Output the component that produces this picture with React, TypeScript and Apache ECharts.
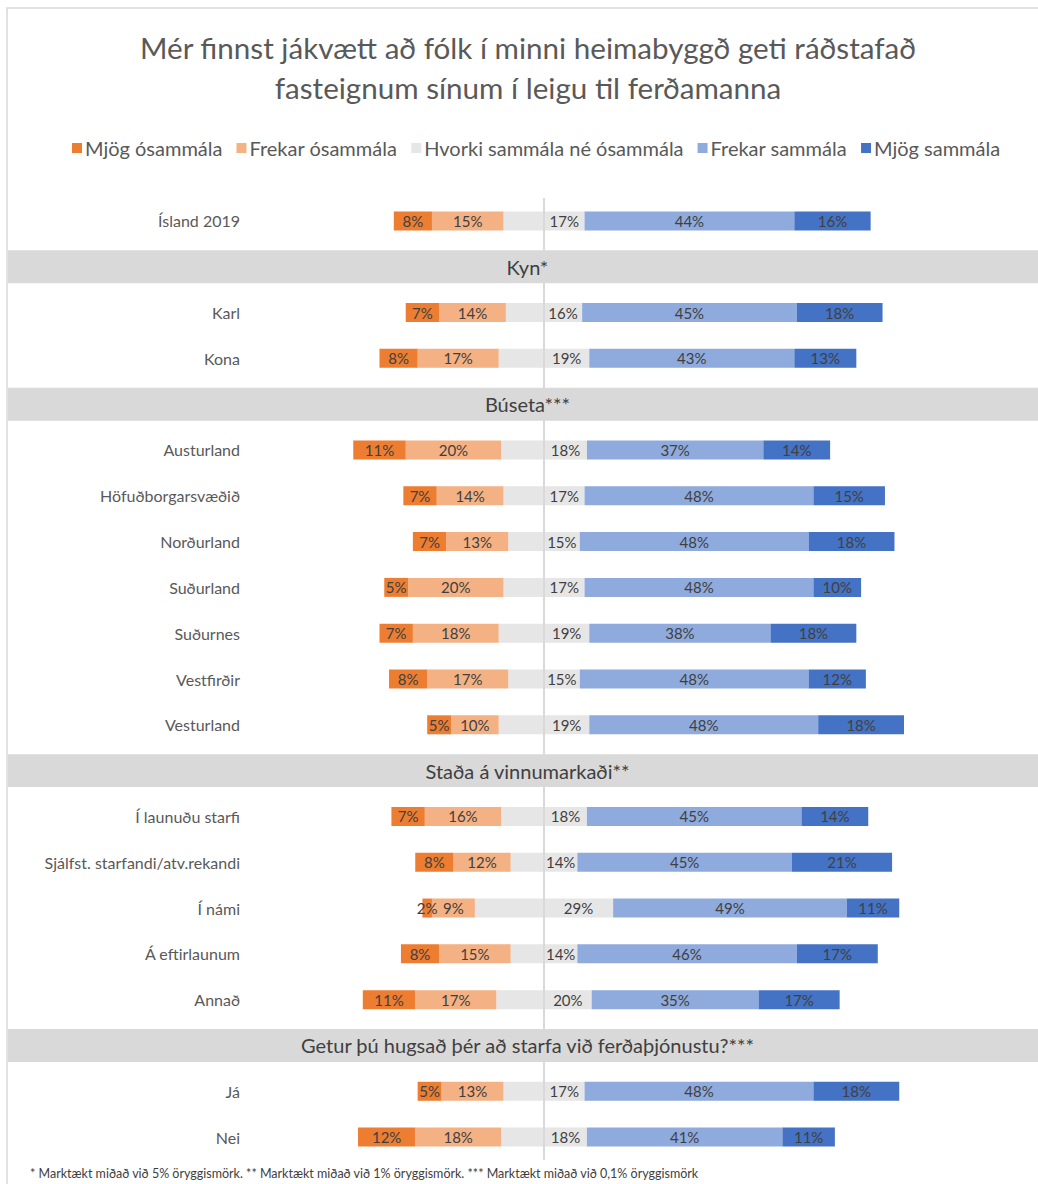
import React, { useEffect, useRef } from "react";
import * as echarts from "echarts";

const categories = [
  "Ísland 2019",
  "Kyn*",
  "Karl",
  "Kona",
  "Búseta***",
  "Austurland",
  "Höfuðborgarsvæðið",
  "Norðurland",
  "Suðurland",
  "Suðurnes",
  "Vestfirðir",
  "Vesturland",
  "Staða á vinnumarkaði**",
  "Í launuðu starfi",
  "Sjálfst. starfandi/atv.rekandi",
  "Í námi",
  "Á eftirlaunum",
  "Annað",
  "Getur þú hugsað þér að starfa við ferðaþjónustu?***",
  "Já",
  "Nei",
];
const headers = [
  "Kyn*",
  "Búseta***",
  "Staða á vinnumarkaði**",
  "Getur þú hugsað þér að starfa við ferðaþjónustu?***",
];

const seriesNames = [
  "Mjög ósammála",
  "Frekar ósammála",
  "Hvorki sammála né ósammála",
  "Frekar sammála",
  "Mjög sammála",
];

const mjogOsammala = [8, null, 7, 8, null, 11, 7, 7, 5, 7, 8, 5, null, 7, 8, 2, 8, 11, null, 5, 12];
const frekarOsammala = [15, null, 14, 17, null, 20, 14, 13, 20, 18, 17, 10, null, 16, 12, 9, 15, 17, null, 13, 18];
const hvorki = [17, null, 16, 19, null, 18, 17, 15, 17, 19, 15, 19, null, 18, 14, 29, 14, 20, null, 17, 18];
const frekarSammala = [44, null, 45, 43, null, 37, 48, 48, 48, 38, 48, 48, null, 45, 45, 49, 46, 35, null, 48, 41];
const mjogSammala = [16, null, 18, 13, null, 14, 15, 18, 10, 18, 12, 18, null, 14, 21, 11, 17, 17, null, 18, 11];

const title = "Mér finnst jákvætt að fólk í minni heimabyggð geti ráðstafað\nfasteignum sínum í leigu til ferðamanna";
const footnote =
  "* Marktækt miðað við 5% öryggismörk. ** Marktækt miðað við 1% öryggismörk. *** Marktækt miðað við 0,1% öryggismörk";

const COLORS = ["#ED7D31", "#F4B183", "#E7E6E6", "#8FAADC", "#4472C4"];
const FONT = "Lato";

export default function App() {
  const ref = useRef<HTMLDivElement>(null);

  useEffect(() => {
    document.body.style.margin = "0";
    const chart = echarts.init(ref.current!, null, { renderer: "svg" });

    const labelStyle = {
      show: true,
      position: "inside",
      color: "#404040",
      fontSize: 15,
      fontFamily: FONT,
    };
    const neg = (arr: (number | null)[]) => arr.map((v) => (v == null ? null : -v));
    const half = (arr: (number | null)[], s: number) => arr.map((v) => (v == null ? null : (s * v) / 2));
    const fmtAbs = (p: any) => Math.round(Math.abs(p.value)) + "%";

    const headerData = headers.map((h) => [0, categories.indexOf(h)]);

    const option: any = {
      animation: false,
      textStyle: { fontFamily: FONT },
      legend: {
        data: seriesNames,
        top: 133,
        left: 67,
        icon: "rect",
        itemWidth: 10,
        itemHeight: 10,
        itemGap: 14,
        textStyle: { fontFamily: FONT, fontSize: 20, color: "#595959", padding: [0, 0, 0, -2] },
      },
      grid: { left: 9, right: 0, top: 198, height: 962 },
      xAxis: {
        type: "value",
        min: -112.2,
        max: 103.6,
        show: false,
      },
      yAxis: {
        type: "category",
        inverse: true,
        data: categories,
        axisLine: { show: false },
        axisTick: { show: false },
        axisLabel: {
          inside: true,
          align: "right",
          margin: 231,
          fontFamily: FONT,
          fontSize: 16,
          color: "#595959",
          formatter: (v: string) => (headers.includes(v) ? "" : v),
        },
      },
      graphic: [
        {
          type: "rect",
          shape: { x: 7, y: 8, width: 1200, height: 1400 },
          style: { fill: "none", stroke: "#d9d9d9", lineWidth: 1.5 },
          z: -10,
        },
        {
          type: "text",
          x: 528,
          y: 27,
          style: {
            text: title,
            font: `29.6px ${FONT}`,
            fill: "#595959",
            align: "center",
            verticalAlign: "top",
            lineHeight: 40,
          },
        },
        {
          type: "text",
          left: 30,
          top: 1167,
          style: { text: footnote, font: `12.5px ${FONT}`, fill: "#404040" },
        },
      ],
      series: [
        {
          name: "center",
          type: "line",
          data: [],
          z: 1,
          markLine: {
            silent: true,
            symbol: "none",
            label: { show: false },
            lineStyle: { color: "#d9d9d9", width: 2, type: "solid" },
            data: [{ xAxis: 0 }],
          },
        },
        {
          name: seriesNames[2],
          type: "bar",
          stack: "a",
          barWidth: 19,
          z: 2,
          data: half(hvorki, -1),
          itemStyle: { color: COLORS[2] },
          label: { show: false },
        },
        {
          name: seriesNames[2],
          type: "bar",
          stack: "a",
          barWidth: 19,
          z: 2,
          data: half(hvorki, 1),
          itemStyle: { color: COLORS[2] },
          label: { ...labelStyle, formatter: (p: any) => hvorki[p.dataIndex] + "%" },
        },
        {
          name: seriesNames[1],
          type: "bar",
          stack: "a",
          barWidth: 19,
          z: 2,
          data: neg(frekarOsammala),
          itemStyle: { color: COLORS[1] },
          label: { ...labelStyle, formatter: fmtAbs },
        },
        {
          name: seriesNames[3],
          type: "bar",
          stack: "a",
          barWidth: 19,
          z: 2,
          data: frekarSammala,
          itemStyle: { color: COLORS[3] },
          label: { ...labelStyle, formatter: fmtAbs },
        },
        {
          name: seriesNames[0],
          type: "bar",
          stack: "a",
          barWidth: 19,
          z: 2,
          data: neg(mjogOsammala),
          itemStyle: { color: COLORS[0] },
          label: { ...labelStyle, formatter: fmtAbs },
        },
        {
          name: seriesNames[4],
          type: "bar",
          stack: "a",
          barWidth: 19,
          z: 2,
          data: mjogSammala,
          itemStyle: { color: COLORS[4] },
          label: { ...labelStyle, formatter: fmtAbs },
        },
        {
          name: "headers",
          type: "custom",
          z: 5,
          data: headerData,
          encode: { x: 0, y: 1 },
          renderItem: (params: any, api: any) => {
            const idx = api.value(1);
            const y = api.coord([0, idx])[1];
            const h = api.size([0, 1])[1] * 0.72;
            const cs = params.coordSys;
            return {
              type: "group",
              children: [
                {
                  type: "rect",
                  shape: { x: cs.x - 1, y: y - h / 2, width: cs.width + 1, height: h },
                  style: { fill: "#d9d9d9" },
                },
                {
                  type: "text",
                  style: {
                    text: categories[idx],
                    x: cs.x + cs.width / 2 + 4,
                    y: y,
                    align: "center",
                    verticalAlign: "middle",
                    fill: "#404040",
                    font: `20px ${FONT}`,
                  },
                },
              ],
            };
          },
        },
      ],
    };
    chart.setOption(option);
    return () => chart.dispose();
  }, []);

  return <div ref={ref} style={{ width: 1038, height: 1184 }} />;
}
